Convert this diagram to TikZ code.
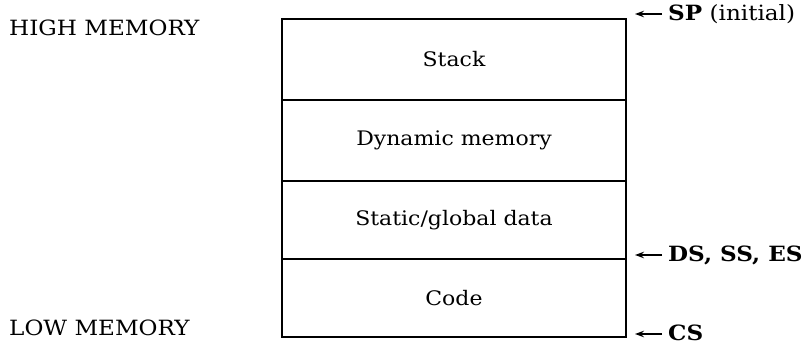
\documentclass[tikz,border=0pt]{standalone}
\usepackage{fontspec}
\setmainfont{DejaVu Serif}[FakeStretch=1.1]
\usetikzlibrary{arrows.meta}
\begin{document}
\begin{tikzpicture}[x=1pt,y=1pt,
  seg/.style={draw=black, line width=1.5pt, minimum width=344pt, inner sep=0pt, font=\fontsize{20}{24}\selectfont},
  side/.style={font=\fontsize{21}{25}\selectfont, inner sep=0pt, anchor=west},
  reg/.style={font=\fontsize{21}{25}\selectfont, inner sep=0pt, anchor=base west},
  arr/.style={line width=2pt, -{Stealth[length=9pt,width=6.5pt]}}]
\useasboundingbox (0,0) rectangle (806,345);
\node[seg, minimum height=81pt] (stack) at (454,285.5) {Stack};
\node[seg, minimum height=81pt] (dyn) at (454,204.5) {Dynamic memory};
\node[seg, minimum height=78pt] (stat) at (454,125) {Static/global data};
\node[seg, minimum height=78pt] (code) at (454,47) {Code};
\node[side] (high) at (9,317) {HIGH MEMORY};
\node[side] (low) at (9,17.5) {LOW MEMORY};
\node[reg] (sp) at (668,324) {\textbf{SP} (initial)};
\node[reg] (ds) at (668,83) {\textbf{DS, SS, ES}};
\node[reg] (cs) at (668,4) {\textbf{CS}};
\coordinate (sptip) at (635,331);
\coordinate (dstip) at (635,90);
\coordinate (cstip) at (635,11);
\draw[arr] (662,331) coordinate (sptail) -- (sptip);
\draw[arr] (662,90) coordinate (dstail) -- (dstip);
\draw[arr] (662,11) coordinate (cstail) -- (cstip);
\end{tikzpicture}
\end{document}
